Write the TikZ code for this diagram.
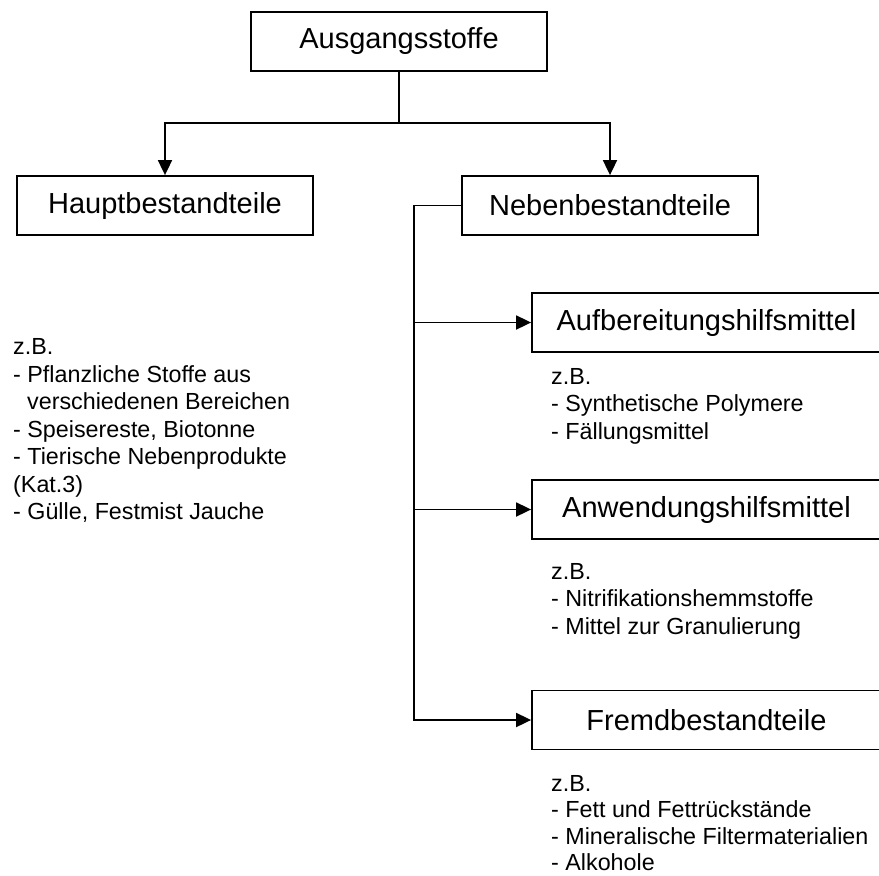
\documentclass[tikz,border=0pt]{standalone}
\usepackage{fontspec}
\setmainfont{Liberation Sans}
\usetikzlibrary{arrows.meta}

\tikzset{
  box/.style={draw, line width=1.8pt, minimum width=296pt, minimum height=59pt, inner sep=0pt,
    font=\fontsize{29}{34}\selectfont},
  sidebox/.style={box, minimum width=349pt},
  bsp/.style={anchor=north west, inner sep=0pt, align=left,
    font=\fontsize{23.3}{27.5}\selectfont},
  conn/.style={line width=1.8pt},
  arr/.style={conn, -{Triangle[length=15pt,width=14pt]}}
}

\begin{document}
\begin{tikzpicture}[x=1pt, y=-1pt]
 \useasboundingbox (0,0) rectangle (879,876);
 \clip (0,0) rectangle (879,876);

 %top
 \node[box] (ausgang) at (399,41.5) {Ausgangsstoffe};
 \node[box] (haupt) at (165,205.5) {Hauptbestandteile};
 \node[box] (neben) at (610,205.5) {Nebenbestandteile};

 \coordinate (split) at (399,123);
 \draw[conn] (ausgang.south) -- (split);
 \draw[arr] (split) -| (haupt.north);
 \draw[arr] (split) -| (neben.north);

 %side boxes
 \foreach \name/\y/\txt in {aufb/322.5/Aufbereitungshilfsmittel, anw/509.5/Anwendungshilfsmittel, fremd/720/Fremdbestandteile} {
   \node[sidebox] (\name) at (706.5,\y) {\txt};
 }

 %bus
 \coordinate (bustop) at (414,205.5);
 \draw[arr] (neben.west) -- (bustop) |- (fremd.west);
 \draw[arr] (bustop |- aufb.west) -- (aufb.west);
 \draw[arr] (bustop |- anw.west) -- (anw.west);

 %examples
 \node[bsp] (hauptbsp) at (13,338.3) {z.B.\\- Pflanzliche Stoffe aus\\\hspace*{14pt}verschiedenen Bereichen\\- Speisereste, Biotonne\\- Tierische Nebenprodukte\\(Kat.3)\\- Gülle, Festmist Jauche};
 \node[bsp] (aufbbsp) at (551,368) {z.B.\\- Synthetische Polymere\\- Fällungsmittel};
 \node[bsp] (anwbsp) at (551,563) {z.B.\\- Nitrifikationshemmstoffe\\- Mittel zur Granulierung};
 \node[bsp, font=\fontsize{23.3}{26.5}\selectfont] (fremdbsp) at (551,775) {z.B.\\- Fett und Fettrückstände\\- Mineralische Filtermaterialien\\- Alkohole};
\end{tikzpicture}
\end{document}
